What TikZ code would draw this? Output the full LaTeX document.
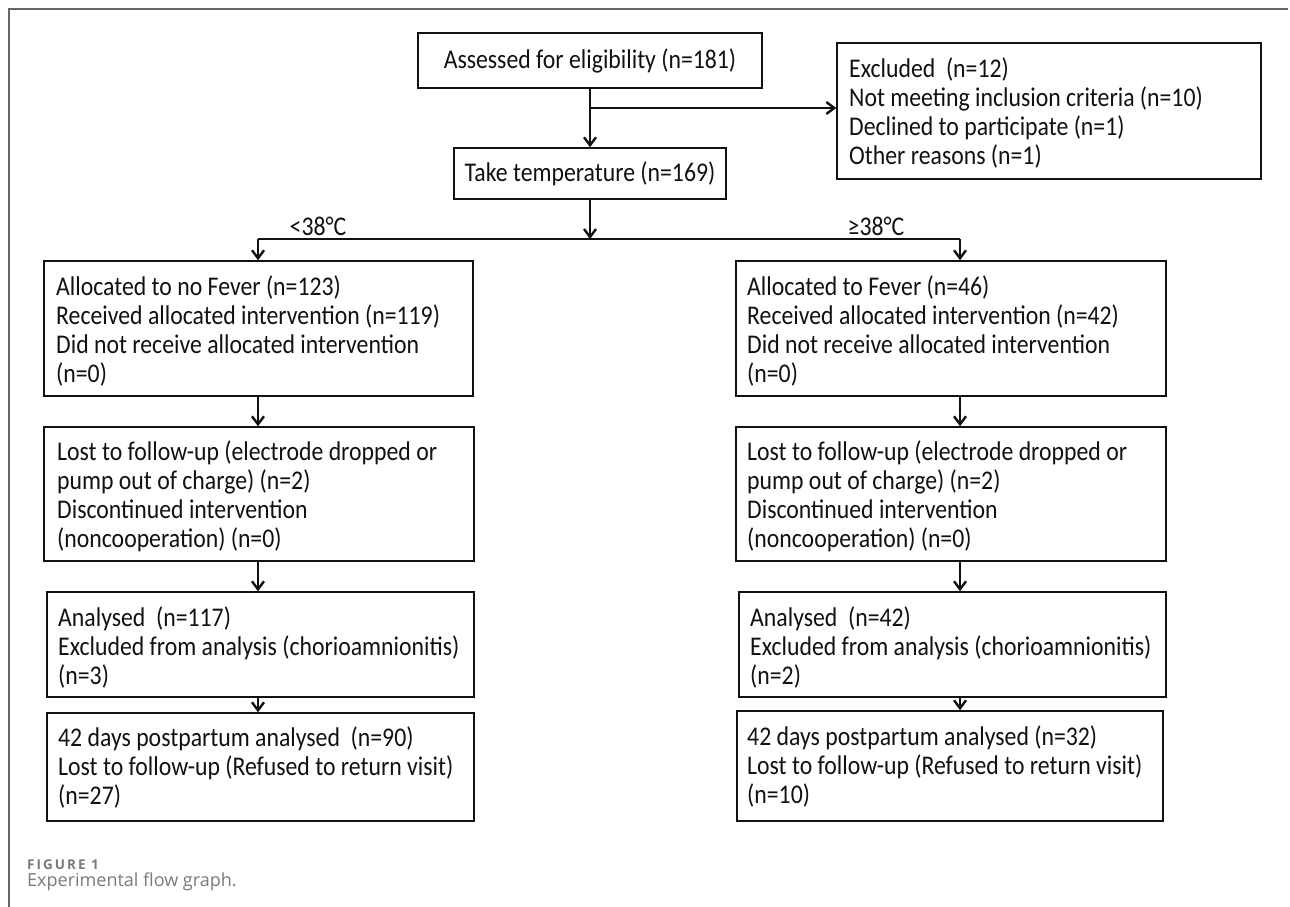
\documentclass[tikz,border=0pt]{standalone}
\usepackage{fontspec}
\setmainfont{Carlito}[FakeStretch=0.88]
\newfontfamily\capfont{Open Sans}
\newfontfamily\figfont{Open Sans}[LetterSpace=15]
\usetikzlibrary{arrows.meta}
\definecolor{framegray}{HTML}{666666}
\definecolor{capgray}{HTML}{7A7A7A}
\definecolor{ink}{HTML}{111111}
\begin{document}
\begin{tikzpicture}[x=1pt,y=-1pt,
  box/.style={draw=ink, line width=1.5pt, inner sep=0pt, font=\fontsize{27}{29}\selectfont, text=ink},
  txt/.style={anchor=base west, inner sep=0pt, align=left, font=\fontsize{27}{29}\selectfont, text=ink},
  arr/.style={draw=ink, line width=2.4pt, -{Straight Barb[length=8pt,width=12pt,line width=2.4pt]}},
  conn/.style={draw=ink, line width=2.2pt},
  lbl/.style={font=\fontsize{27}{29}\selectfont, text=ink, inner sep=0pt}]
\useasboundingbox (0,0) rectangle (1290,907);
\draw[framegray, line width=1.2pt] (9,907) -- (9,9) -- (1288,9);

% top
\node[box, minimum width=344pt, minimum height=55pt] (A) at (590,60.5) {Assessed for eligibility (n=181)};
\node[box, minimum width=272pt, minimum height=51pt] (T) at (590,173.5) {Take temperature (n=169)};
\node[box, minimum width=424pt, minimum height=136pt] (EX) at (1049,111) {};
\node[txt] (EXt) at (849,164)
 {Excluded\ \ (n=12)\\Not meeting inclusion criteria (n=10)\\Declined to participate (n=1)\\Other reasons (n=1)};

% left column
\node[box, minimum width=429pt, minimum height=135pt] (L1) at (258.5,328.5) {};
\node[txt] (L1t) at (56,382)
 {Allocated to no Fever (n=123)\\Received allocated intervention (n=119)\\Did not receive allocated intervention\\(n=0)};
\node[box, minimum width=430pt, minimum height=134pt] (L2) at (259,494) {};
\node[txt] (L2t) at (57,547)
 {Lost to follow-up (electrode dropped or\\pump out of charge) (n=2)\\Discontinued intervention\\(noncooperation) (n=0)};
\node[box, minimum width=427pt, minimum height=105pt] (L3) at (260.5,644.5) {};
\node[txt] (L3t) at (58,684)
 {Analysed\ \ (n=117)\\Excluded from analysis (chorioamnionitis)\\(n=3)};
\node[box, minimum width=427pt, minimum height=108pt] (L4) at (260.5,767) {};
\node[txt] (L4t) at (58,804)
 {42 days postpartum analysed\ \ (n=90)\\Lost to follow-up (Refused to return visit)\\(n=27)};

% right column
\node[box, minimum width=430pt, minimum height=135pt] (R1) at (951,328.5) {};
\node[txt] (R1t) at (747,382)
 {Allocated to Fever (n=46)\\Received allocated intervention (n=42)\\Did not receive allocated intervention\\(n=0)};
\node[box, minimum width=430pt, minimum height=134pt] (R2) at (951,494) {};
\node[txt] (R2t) at (747,547)
 {Lost to follow-up (electrode dropped or\\pump out of charge) (n=2)\\Discontinued intervention\\(noncooperation) (n=0)};
\node[box, minimum width=427pt, minimum height=105pt] (R3) at (952.5,644.5) {};
\node[txt] (R3t) at (750,684)
 {Analysed\ \ (n=42)\\Excluded from analysis (chorioamnionitis)\\(n=2)};
\node[box, minimum width=426pt, minimum height=110pt] (R4) at (950,766) {};
\node[txt] (R4t) at (747,803)
 {42 days postpartum analysed (n=32)\\Lost to follow-up (Refused to return visit)\\(n=10)};

% connectors
\coordinate (brk) at (590,108);
\coordinate (split) at (590,239);
\coordinate (lx) at (258,239);
\coordinate (rx) at (960,239);
\draw[arr] (A.south) -- (T.north);
\draw[arr] (brk) -- (brk -| EX.west);
\draw[arr] (T.south) -- (split);
\draw[conn] (lx) -- (rx);
\draw[arr] (lx) -- (lx |- L1.north);
\draw[arr] (rx) -- (rx |- R1.north);
\draw[arr] (lx |- L1.south) -- (lx |- L2.north);
\draw[arr] (lx |- L2.south) -- (lx |- L3.north);
\draw[arr] (lx |- L3.south) -- (lx |- L4.north);
\draw[arr] (rx |- R1.south) -- (rx |- R2.north);
\draw[arr] (rx |- R2.south) -- (rx |- R3.north);
\draw[arr] (rx |- R3.south) -- (rx |- R4.north);

\node[lbl] (lt) at (318,226) {<38°C};
\node[lbl] (ge) at (876,226) {≥38°C};

% caption
\node[anchor=base west, inner sep=0pt, text=capgray, font=\figfont\bfseries\fontsize{13.5}{15}\selectfont] (fig) at (27,869.5) {FIGURE 1};
\node[anchor=base west, inner sep=0pt, text=capgray, font=\capfont\fontsize{18}{21}\selectfont] (cap) at (27,886) {Experimental flow graph.};
\end{tikzpicture}
\end{document}
